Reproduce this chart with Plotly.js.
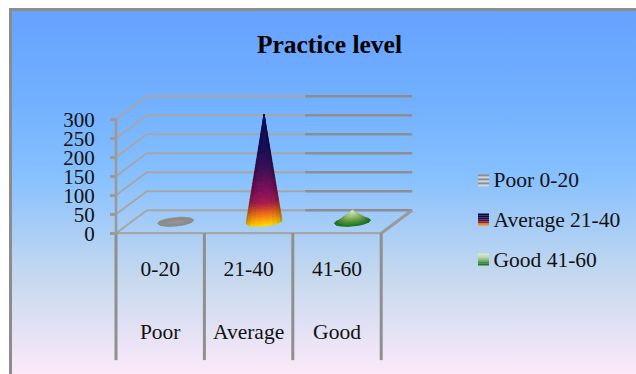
<!DOCTYPE html>
<html>
<head>
<meta charset="utf-8">
<script src="https://cdn.plot.ly/plotly-3.0.1.min.js"></script>
<style>
  html, body { margin: 0; padding: 0; background: #fff; }
  #frame { position: absolute; left: 0; top: 0; width: 636px; height: 374px; overflow: hidden; }
  #panel { position: absolute; left: 9px; top: 8px; width: 627px; height: 366px; box-sizing: border-box;
           border-left: 3px solid #8c8c8c; border-top: 3px solid #8c8c8c;
           background: linear-gradient(180deg, #66a2ff 0%, #72b0ff 25%, #86c0ff 45%, #c5d8ee 73%, #fbe9f9 100%); }
  #chart { position: absolute; left: 0; top: 0; width: 636px; height: 374px; }
</style>
</head>
<body>
<div id="frame"><div id="panel"></div><div id="chart"></div></div>
<script>
// Practice level scores
const ranges = ['0-20', '21-40', '41-60'];
const levels = ['Poor', 'Average', 'Good'];
const seriesNames = ['Poor 0-20', 'Average 21-40', 'Good 41-60'];
const counts = [2, 283, 30];
const valueTicks = [0, 50, 100, 150, 200, 250, 300];

// Oblique projection of the 3D box: depth 1 is the back wall.
const DEPTH_X = 0.35;
const DEPTH_V = 60.5;
const project = (x, v, d) => [x + d * DEPTH_X, v + d * DEPTH_V];

const traces = [];
const SERIF = 'Liberation Serif, Times New Roman, serif';
const WIDTH = 636, HEIGHT = 374, LEFT = 110, RIGHT = 216, AXIS_PX = 116, UNIT_PX = 88.4;

function polyline(points, color, width) {
  traces.push({
    type: 'scatter', mode: 'lines', x: points.map(p => p[0]), y: points.map(p => p[1]),
    line: { color, width }, showlegend: false, hoverinfo: 'skip', cliponaxis: false
  });
}

// Walls and floor
const thinGrid = '#a6a6a6', thickGrid = '#8e8e8e';
const wallBreak = 1.79;
valueTicks.forEach(v => {
  polyline([project(0, v, 0), project(0, v, 1), project(wallBreak, v, 1)], thinGrid, 1.9);
  polyline([project(wallBreak, v, 1), project(3, v, 1)], thickGrid, 2.6);
});
polyline([project(0, 0, 0), project(3, 0, 0)], thinGrid, 2.2);
polyline([project(3, 0, 0), project(3, 0, 1)], '#9a9a9a', 3);
polyline([project(0, 0, 0), project(0, 300, 0)], '#9a9a9a', 2.6);

// Category dividers below the floor
const dividerFoot = -334;
[0, 1, 2, 3].forEach(i => polyline([[i, 0], [i, dividerFoot]], '#8f8f8f', 3));

// Cones: stacked rings, each split into facets so the surface can be shaded
const RX = 0.19, RD = 0.2;
function lerpColor(stops, t) {
  for (let i = 1; i < stops.length; i++) {
    if (t <= stops[i][0]) {
      const a = stops[i - 1], b = stops[i], f = (t - a[0]) / (b[0] - a[0]);
      return [0, 1, 2].map(k => a[1][k] + (b[1][k] - a[1][k]) * f);
    }
  }
  return stops[stops.length - 1][1];
}
const rgb = c => `rgb(${c.map(n => Math.round(Math.max(0, Math.min(255, n)))).join(',')})`;

function ringPoint(cat, value, level, theta) {
  const k = 1 - level;
  const d = 0.5 + RD * k * Math.sin(theta);
  const x = cat + 0.5 + RX * k * Math.cos(theta);
  return project(x, value * level, d);
}

function cone(cat, value, stops, rings, facets, edgeShade) {
  const skew = Math.atan2(RD * DEPTH_X, RX);
  const base = [];
  for (let a = 0; a <= 48; a++) base.push(ringPoint(cat, value, 0, a / 48 * 2 * Math.PI));
  const baseColor = rgb(lerpColor(stops, 0));
  traces.push({
    type: 'scatter', mode: 'lines', fill: 'toself', x: base.map(p => p[0]), y: base.map(p => p[1]),
    fillcolor: baseColor, line: { color: baseColor, width: 0.6 }, showlegend: false, hoverinfo: 'skip'
  });
  for (let r = 0; r < rings; r++) {
    const l0 = r / rings, l1 = (r + 1) / rings;
    for (let f = 0; f < facets; f++) {
      const t0 = skew - Math.PI + f / facets * Math.PI;
      const t1 = skew - Math.PI + (f + 1) / facets * Math.PI;
      const mid = (f + 0.5) / facets * 2 - 1;
      const shade = 1 - edgeShade * mid * mid;
      const c = rgb(lerpColor(stops, (l0 + l1) / 2).map(n => n * shade));
      const pts = [ringPoint(cat, value, l0, t0), ringPoint(cat, value, l0, t1),
                   ringPoint(cat, value, l1, t1), ringPoint(cat, value, l1, t0), ringPoint(cat, value, l0, t0)];
      traces.push({
        type: 'scatter', mode: 'lines', fill: 'toself', x: pts.map(p => p[0]), y: pts.map(p => p[1]),
        fillcolor: c, line: { color: c, width: 0.7 }, showlegend: false, hoverinfo: 'skip'
      });
    }
  }
}

const poorStops = [[0, [138, 138, 138]], [1, [150, 150, 150]]];
const averageStops = [[0, [255, 225, 0]], [0.05, [255, 170, 10]], [0.12, [235, 100, 25]], [0.2, [170, 30, 70]],
                      [0.3, [135, 15, 90]], [0.5, [65, 14, 85]], [0.7, [25, 12, 85]], [1, [10, 14, 90]]];
const goodStops = [[0, [24, 116, 28]], [0.25, [74, 140, 56]], [0.6, [150, 190, 110]], [1, [222, 236, 190]]];
cone(0, counts[0], poorStops, 2, 6, 0);
cone(1, counts[1], averageStops, 46, 9, 0.38);
cone(2, counts[2], goodStops, 8, 7, 0.12);

// Category labels under the floor
const labelFont = { family: SERIF, size: 21.5, color: '#111' };
const centres = [0.5, 1.5, 2.5];
traces.push({ type: 'scatter', mode: 'text', x: centres, y: centres.map(() => -98), text: ranges,
  textposition: 'middle center', textfont: labelFont, showlegend: false, hoverinfo: 'skip' });
traces.push({ type: 'scatter', mode: 'text', x: centres, y: centres.map(() => -263), text: levels,
  textposition: 'middle center', textfont: labelFont, showlegend: false, hoverinfo: 'skip' });

// Legend entries; their keys are painted below as banded swatches
seriesNames.forEach((name, i) => {
  traces.push({ type: 'scatter', mode: 'markers', x: [null], y: [null], name, legendgroup: 'g' + i,
    marker: { symbol: 'square', size: 1, opacity: 0, color: 'rgba(0,0,0,0)' } });
});

const plotWidth = WIDTH - LEFT - RIGHT;
const px = x => (x - LEFT) / plotWidth;
const py = y => 1 - y / HEIGHT;
const swatchBands = [
  ['#8d8d8d', '#d4d4d4', '#8d8d8d', '#d4d4d4', '#8d8d8d', '#d4d4d4'],
  ['#06063f', '#12083f', '#2a0a4a', '#4a0c4c', '#a0241e', '#f08a10'],
  ['#d9e9c5', '#c4dcae', '#a6c98f', '#7aaf66', '#3f8c38', '#1f7a22']
];
const swatchTops = [174.5, 213.5, 253.5];
const shapes = [];
swatchBands.forEach((bands, s) => bands.forEach((color, b) => {
  shapes.push({ type: 'rect', xref: 'paper', yref: 'paper', layer: 'above',
    x0: px(478), x1: px(489), y0: py(swatchTops[s] + b * 2), y1: py(swatchTops[s] + (b + 1) * 2),
    fillcolor: color, line: { width: 0 } });
}));

const layout = {
  width: WIDTH, height: HEIGHT,
  margin: { l: LEFT, r: RIGHT, t: 0, b: 0, pad: 0 },
  paper_bgcolor: 'rgba(0,0,0,0)', plot_bgcolor: 'rgba(0,0,0,0)',
  title: { text: '<b>Practice level</b>', x: 0.518, xanchor: 'center', y: 0.882, yanchor: 'middle',
           font: { family: SERIF, size: 25.5, color: '#000' } },
  xaxis: { range: [(LEFT - AXIS_PX) / UNIT_PX, (WIDTH - RIGHT - AXIS_PX) / UNIT_PX],
           showgrid: false, zeroline: false, showline: false, showticklabels: false, ticks: '', fixedrange: true },
  yaxis: { range: [-370.5, 613.7], showgrid: false, zeroline: false, showline: false,
           anchor: 'free', position: (AXIS_PX - LEFT) / plotWidth,
           tickmode: 'array', tickvals: valueTicks, ticktext: valueTicks.map(String),
           ticks: 'outside', ticklen: 6, tickwidth: 2.6, tickcolor: '#9a9a9a', ticklabelstandoff: 11,
           tickfont: { family: SERIF, size: 21, color: '#111' }, fixedrange: true },
  legend: { x: (453.5 - LEFT) / plotWidth, xanchor: 'left', y: 0.576, yanchor: 'top', bgcolor: 'rgba(0,0,0,0)', borderwidth: 0,
            tracegroupgap: 9, font: { family: SERIF, size: 21.5, color: '#111' } },
  showlegend: true,
  shapes
};
Plotly.newPlot('chart', traces, layout, { displayModeBar: false, staticPlot: true });
</script>
</body>
</html>
